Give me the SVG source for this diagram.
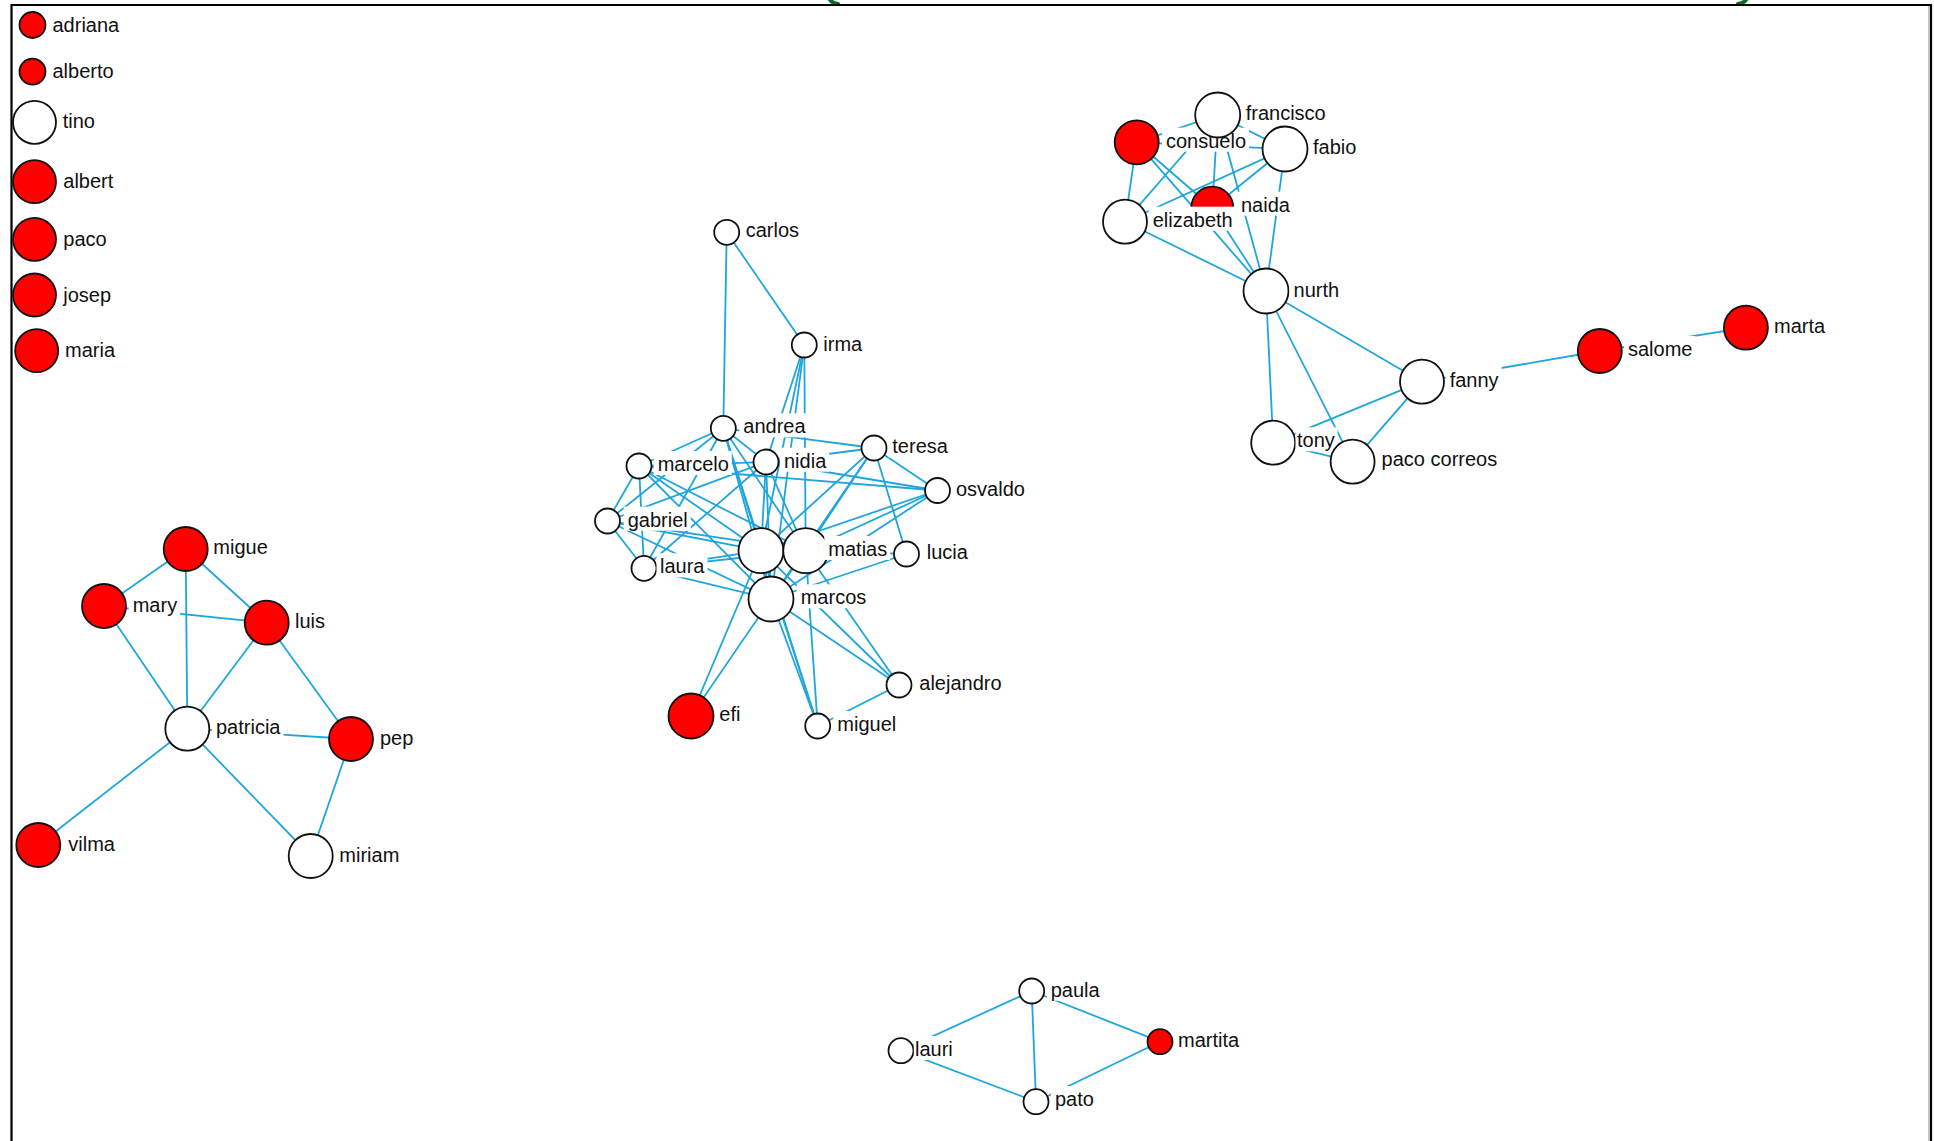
<svg xmlns="http://www.w3.org/2000/svg" width="1934" height="1141" viewBox="0 0 1934 1141">
<style>
.e{stroke:#1ea6dc;stroke-width:1.8;fill:none}
.n{stroke:#111;stroke-width:1.8}
.r{fill:#ff0000}
.w{fill:#ffffff}
.lb{fill:#ffffff}
text{font-family:"Liberation Sans",Arial,sans-serif;font-size:20px;fill:#111}
.fr{stroke:#000;stroke-width:2.2;fill:none}
.gr{stroke:#0b6b2e;stroke-width:4;fill:none;stroke-linecap:round}
</style>
<rect x="0" y="0" width="1934" height="1141" fill="#ffffff"/>
<g id="frame">
<path class="gr" d="M829,-2 Q831,3 838,4"/>
<path class="gr" d="M1747,-2 Q1745,3 1738,4"/>
<path class="fr" d="M11.5,1141 V5 H1931 V1141"/>
<line x1="1929" y1="6" x2="1929" y2="1141" stroke="#b0b0b0" stroke-width="1.5"/>
</g>
<g id="edges">
<!-- left group -->
<line class="e" x1="185.7" y1="549" x2="104" y2="606"/>
<line class="e" x1="185.7" y1="549" x2="187.3" y2="728.7"/>
<line class="e" x1="185.7" y1="549" x2="266.7" y2="622.7"/>
<line class="e" x1="104" y1="606" x2="266.7" y2="622.7"/>
<line class="e" x1="104" y1="606" x2="187.3" y2="728.7"/>
<line class="e" x1="266.7" y1="622.7" x2="187.3" y2="728.7"/>
<line class="e" x1="266.7" y1="622.7" x2="351" y2="739"/>
<line class="e" x1="187.3" y1="728.7" x2="351" y2="739"/>
<line class="e" x1="187.3" y1="728.7" x2="38.3" y2="845"/>
<line class="e" x1="187.3" y1="728.7" x2="310.7" y2="856"/>
<line class="e" x1="351" y1="739" x2="310.7" y2="856"/>
<!-- top right group -->
<line class="e" x1="1217.7" y1="115" x2="1136.7" y2="142.3"/>
<line class="e" x1="1217.7" y1="115" x2="1285" y2="149"/>
<line class="e" x1="1217.7" y1="115" x2="1212.3" y2="207.7"/>
<line class="e" x1="1217.7" y1="115" x2="1125" y2="221.7"/>
<line class="e" x1="1217.7" y1="115" x2="1266" y2="291"/>
<line class="e" x1="1136.7" y1="142.3" x2="1285" y2="149"/>
<line class="e" x1="1136.7" y1="142.3" x2="1125" y2="221.7"/>
<line class="e" x1="1136.7" y1="142.3" x2="1212.3" y2="207.7"/>
<line class="e" x1="1136.7" y1="142.3" x2="1266" y2="291"/>
<line class="e" x1="1285" y1="149" x2="1212.3" y2="207.7"/>
<line class="e" x1="1285" y1="149" x2="1125" y2="221.7"/>
<line class="e" x1="1285" y1="149" x2="1266" y2="291"/>
<line class="e" x1="1212.3" y1="207.7" x2="1266" y2="291"/>
<line class="e" x1="1125" y1="221.7" x2="1266" y2="291"/>
<line class="e" x1="1266" y1="291" x2="1422" y2="381.7"/>
<line class="e" x1="1266" y1="291" x2="1273.2" y2="442.7"/>
<line class="e" x1="1266" y1="291" x2="1352.6" y2="461.7"/>
<line class="e" x1="1422" y1="381.7" x2="1273.2" y2="442.7"/>
<line class="e" x1="1422" y1="381.7" x2="1352.6" y2="461.7"/>
<line class="e" x1="1273.2" y1="442.7" x2="1352.6" y2="461.7"/>
<line class="e" x1="1422" y1="381.7" x2="1599.8" y2="351"/>
<line class="e" x1="1599.8" y1="351" x2="1745.9" y2="327.7"/>
<!-- bottom group -->
<line class="e" x1="1031.7" y1="991" x2="901" y2="1050.7"/>
<line class="e" x1="1031.7" y1="991" x2="1036" y2="1101.7"/>
<line class="e" x1="1031.7" y1="991" x2="1160" y2="1041.7"/>
<line class="e" x1="901" y1="1050.7" x2="1036" y2="1101.7"/>
<line class="e" x1="1036" y1="1101.7" x2="1160" y2="1041.7"/>
<!-- central group -->
<line class="e" x1="726.7" y1="232.3" x2="723.3" y2="428.3"/>
<line class="e" x1="726.7" y1="232.3" x2="804.3" y2="345"/>
<line class="e" x1="804.3" y1="345" x2="766" y2="462"/>
<line class="e" x1="804.3" y1="345" x2="761" y2="550.7"/>
<line class="e" x1="804.3" y1="345" x2="771" y2="599"/>
<line class="e" x1="804.3" y1="345" x2="805.7" y2="550.7"/>
<line class="e" x1="723.3" y1="428.3" x2="639" y2="466"/>
<line class="e" x1="723.3" y1="428.3" x2="607.5" y2="521"/>
<line class="e" x1="723.3" y1="428.3" x2="766" y2="462"/>
<line class="e" x1="723.3" y1="428.3" x2="874" y2="448"/>
<line class="e" x1="723.3" y1="428.3" x2="761" y2="550.7"/>
<line class="e" x1="723.3" y1="428.3" x2="771" y2="599"/>
<line class="e" x1="723.3" y1="428.3" x2="805.7" y2="550.7"/>
<line class="e" x1="723.3" y1="428.3" x2="644" y2="568.3"/>
<line class="e" x1="723.3" y1="428.3" x2="817.7" y2="726"/>
<line class="e" x1="766" y1="462" x2="639" y2="466"/>
<line class="e" x1="766" y1="462" x2="874" y2="448"/>
<line class="e" x1="766" y1="462" x2="937.5" y2="490.5"/>
<line class="e" x1="766" y1="462" x2="761" y2="550.7"/>
<line class="e" x1="766" y1="462" x2="771" y2="599"/>
<line class="e" x1="766" y1="462" x2="805.7" y2="550.7"/>
<line class="e" x1="766" y1="462" x2="607.5" y2="521"/>
<line class="e" x1="766" y1="462" x2="644" y2="568.3"/>
<line class="e" x1="639" y1="466" x2="607.5" y2="521"/>
<line class="e" x1="639" y1="466" x2="644" y2="568.3"/>
<line class="e" x1="639" y1="466" x2="761" y2="550.7"/>
<line class="e" x1="639" y1="466" x2="805.7" y2="550.7"/>
<line class="e" x1="639" y1="466" x2="771" y2="599"/>
<line class="e" x1="639" y1="466" x2="937.5" y2="490.5"/>
<line class="e" x1="607.5" y1="521" x2="644" y2="568.3"/>
<line class="e" x1="607.5" y1="521" x2="761" y2="550.7"/>
<line class="e" x1="607.5" y1="521" x2="771" y2="599"/>
<line class="e" x1="607.5" y1="521" x2="805.7" y2="550.7"/>
<line class="e" x1="644" y1="568.3" x2="761" y2="550.7"/>
<line class="e" x1="644" y1="568.3" x2="771" y2="599"/>
<line class="e" x1="644" y1="568.3" x2="805.7" y2="550.7"/>
<line class="e" x1="874" y1="448" x2="937.5" y2="490.5"/>
<line class="e" x1="874" y1="448" x2="906.5" y2="554"/>
<line class="e" x1="874" y1="448" x2="761" y2="550.7"/>
<line class="e" x1="874" y1="448" x2="805.7" y2="550.7"/>
<line class="e" x1="874" y1="448" x2="771" y2="599"/>
<line class="e" x1="937.5" y1="490.5" x2="761" y2="550.7"/>
<line class="e" x1="937.5" y1="490.5" x2="805.7" y2="550.7"/>
<line class="e" x1="937.5" y1="490.5" x2="771" y2="599"/>
<line class="e" x1="906.5" y1="554" x2="805.7" y2="550.7"/>
<line class="e" x1="906.5" y1="554" x2="771" y2="599"/>
<line class="e" x1="761" y1="550.7" x2="805.7" y2="550.7"/>
<line class="e" x1="761" y1="550.7" x2="771" y2="599"/>
<line class="e" x1="761" y1="550.7" x2="691" y2="716"/>
<line class="e" x1="761" y1="550.7" x2="817.7" y2="726"/>
<line class="e" x1="761" y1="550.7" x2="899" y2="685"/>
<line class="e" x1="805.7" y1="550.7" x2="771" y2="599"/>
<line class="e" x1="805.7" y1="550.7" x2="817.7" y2="726"/>
<line class="e" x1="805.7" y1="550.7" x2="899" y2="685"/>
<line class="e" x1="771" y1="599" x2="691" y2="716"/>
<line class="e" x1="771" y1="599" x2="817.7" y2="726"/>
<line class="e" x1="771" y1="599" x2="899" y2="685"/>
<line class="e" x1="899" y1="685" x2="817.7" y2="726"/>
</g>
<!-- isolates -->
<g id="n-adriana"><circle class="n r" cx="32.5" cy="25" r="13"/><rect class="lb" x="48.5" y="11.5" width="73.7" height="24"/><text x="52.5" y="31.5">adriana</text></g>
<g id="n-alberto"><circle class="n r" cx="32.5" cy="71.7" r="13"/><rect class="lb" x="48.5" y="58" width="68.1" height="24"/><text x="52.5" y="78">alberto</text></g>
<g id="n-tino"><circle class="n w" cx="34.5" cy="122.3" r="21.5"/><rect class="lb" x="58.7" y="108.3" width="39.2" height="24"/><text x="62.7" y="128.3">tino</text></g>
<g id="n-albert"><circle class="n r" cx="34.5" cy="181.7" r="21.5"/><rect class="lb" x="59.3" y="167.7" width="57" height="24"/><text x="63.3" y="187.7">albert</text></g>
<g id="n-paco"><circle class="n r" cx="34.5" cy="239.3" r="21.5"/><rect class="lb" x="59.3" y="225.5" width="50.4" height="24"/><text x="63.3" y="245.5">paco</text></g>
<g id="n-josep"><circle class="n r" cx="34.5" cy="295" r="21.5"/><rect class="lb" x="59.3" y="281.5" width="54.8" height="24"/><text x="63.3" y="301.5">josep</text></g>
<g id="n-maria"><circle class="n r" cx="36.7" cy="350.7" r="21.5"/><rect class="lb" x="61" y="336.7" width="57" height="24"/><text x="65" y="356.7">maria</text></g>
<!-- left group -->
<g id="n-migue"><circle class="n r" cx="185.7" cy="549" r="22"/><rect class="lb" x="209.3" y="534" width="61.5" height="24"/><text x="213.3" y="554">migue</text></g>
<g id="n-mary"><circle class="n r" cx="104" cy="606" r="22"/><rect class="lb" x="128.7" y="592" width="51.4" height="24"/><text x="132.7" y="612">mary</text></g>
<g id="n-luis"><circle class="n r" cx="266.7" cy="622.7" r="22"/><rect class="lb" x="291" y="608.3" width="37" height="24"/><text x="295" y="628.3">luis</text></g>
<g id="n-patricia"><circle class="n w" cx="187.3" cy="728.7" r="22"/><rect class="lb" x="212" y="714" width="71.5" height="24"/><text x="216" y="734">patricia</text></g>
<g id="n-pep"><circle class="n r" cx="351" cy="739" r="22"/><rect class="lb" x="376" y="725" width="40.4" height="24"/><text x="380" y="745">pep</text></g>
<g id="n-vilma"><circle class="n r" cx="38.3" cy="845" r="22"/><rect class="lb" x="64.3" y="831" width="53.7" height="24"/><text x="68.3" y="851">vilma</text></g>
<g id="n-miriam"><circle class="n w" cx="310.7" cy="856" r="22"/><rect class="lb" x="335.3" y="841.7" width="67" height="24"/><text x="339.3" y="861.7">miriam</text></g>
<!-- top right group -->
<g id="n-consuelo"><circle class="n r" cx="1136.7" cy="142.3" r="22"/><rect class="lb" x="1162" y="127.7" width="87" height="24"/><text x="1166" y="147.7">consuelo</text></g>
<g id="n-francisco"><circle class="n w" cx="1217.7" cy="115" r="22.5"/><rect class="lb" x="1241.7" y="100" width="87" height="24"/><text x="1245.7" y="120">francisco</text></g>
<g id="n-fabio"><circle class="n w" cx="1285" cy="149" r="22.5"/><rect class="lb" x="1309" y="134.3" width="50.4" height="24"/><text x="1313" y="154.3">fabio</text></g>
<g id="n-naida"><circle class="n r" cx="1212.3" cy="207.7" r="21"/><rect class="lb" x="1237" y="191.7" width="55.9" height="24"/><text x="1241" y="211.7">naida</text></g>
<g id="n-elizabeth"><circle class="n w" cx="1125" cy="221.7" r="22"/><rect class="lb" x="1148.7" y="206.7" width="87" height="24"/><text x="1152.7" y="226.7">elizabeth</text></g>
<g id="n-nurth"><circle class="n w" cx="1266" cy="291" r="22.5"/><rect class="lb" x="1289.6" y="276.7" width="52.6" height="24"/><text x="1293.6" y="296.7">nurth</text></g>
<g id="n-fanny"><circle class="n w" cx="1422" cy="381.7" r="22"/><rect class="lb" x="1445.7" y="366.7" width="55.9" height="24"/><text x="1449.7" y="386.7">fanny</text></g>
<g id="n-tony"><circle class="n w" cx="1273.2" cy="442.7" r="22"/><rect class="lb" x="1295.5" y="427.3" width="42" height="24"/><text x="1297" y="447.3">tony</text></g>
<g id="n-paco-correos"><circle class="n w" cx="1352.6" cy="461.7" r="22"/><rect class="lb" x="1377.6" y="446" width="122.6" height="24"/><text x="1381.6" y="466">paco correos</text></g>
<g id="n-salome"><circle class="n r" cx="1599.8" cy="351" r="22"/><rect class="lb" x="1624" y="336" width="71.5" height="24"/><text x="1628" y="356">salome</text></g>
<g id="n-marta"><circle class="n r" cx="1745.9" cy="327.7" r="22"/><rect class="lb" x="1770" y="312.7" width="58.1" height="24"/><text x="1774" y="332.7">marta</text></g>
<!-- central group -->
<g id="n-carlos"><circle class="n w" cx="726.7" cy="232.3" r="12.5"/><rect class="lb" x="741.7" y="216.7" width="60.3" height="24"/><text x="745.7" y="236.7">carlos</text></g>
<g id="n-irma"><circle class="n w" cx="804.3" cy="345" r="12.5"/><rect class="lb" x="819.3" y="330.7" width="45.9" height="24"/><text x="823.3" y="350.7">irma</text></g>
<g id="n-andrea"><circle class="n w" cx="723.3" cy="428.3" r="12.5"/><rect class="lb" x="739.3" y="413.3" width="69.3" height="24"/><text x="743.3" y="433.3">andrea</text></g>
<g id="n-teresa"><circle class="n w" cx="874" cy="448" r="12.5"/><rect class="lb" x="888.3" y="433.3" width="62.6" height="24"/><text x="892.3" y="453.3">teresa</text></g>
<g id="n-nidia"><circle class="n w" cx="766" cy="462" r="12.5"/><rect class="lb" x="780" y="447.7" width="49.2" height="24"/><text x="784" y="467.7">nidia</text></g>
<g id="n-marcelo"><circle class="n w" cx="639" cy="466" r="12.5"/><rect class="lb" x="653.7" y="451" width="78.1" height="24"/><text x="657.7" y="471">marcelo</text></g>
<g id="n-osvaldo"><circle class="n w" cx="937.5" cy="490.5" r="12.5"/><rect class="lb" x="952" y="476" width="75.9" height="24"/><text x="956" y="496">osvaldo</text></g>
<g id="n-gabriel"><circle class="n w" cx="607.5" cy="521" r="12.5"/><rect class="lb" x="623.7" y="506.7" width="67" height="24"/><text x="627.7" y="526.7">gabriel</text></g>
<g id="n-laura"><circle class="n w" cx="644" cy="568.3" r="12.5"/><rect class="lb" x="656.5" y="553.3" width="51" height="24"/><text x="660" y="573.3">laura</text></g>
<g id="n-unlabelled"><circle class="n w" cx="761" cy="550.7" r="22.5"/></g>
<g id="n-matias"><circle class="n w" cx="805.7" cy="550.7" r="22.5"/><rect class="lb" x="824.3" y="536" width="65.9" height="24"/><text x="828.3" y="556">matias</text></g>
<g id="n-lucia"><circle class="n w" cx="906.5" cy="554" r="12.5"/><rect class="lb" x="922.7" y="539.3" width="48.1" height="24"/><text x="926.7" y="559.3">lucia</text></g>
<g id="n-marcos"><circle class="n w" cx="771" cy="599" r="22.5"/><rect class="lb" x="796.7" y="584.3" width="72.6" height="24"/><text x="800.7" y="604.3">marcos</text></g>
<g id="n-alejandro"><circle class="n w" cx="899" cy="685" r="12.5"/><rect class="lb" x="915.3" y="670" width="89.3" height="24"/><text x="919.3" y="690">alejandro</text></g>
<g id="n-efi"><circle class="n r" cx="691" cy="716" r="22.5"/><rect class="lb" x="715.3" y="701" width="28.1" height="24"/><text x="719.3" y="721">efi</text></g>
<g id="n-miguel"><circle class="n w" cx="817.7" cy="726" r="12.5"/><rect class="lb" x="833.3" y="711" width="65.9" height="24"/><text x="837.3" y="731">miguel</text></g>
<!-- bottom group -->
<g id="n-paula"><circle class="n w" cx="1031.7" cy="991" r="12.5"/><rect class="lb" x="1046.7" y="976.7" width="55.9" height="24"/><text x="1050.7" y="996.7">paula</text></g>
<g id="n-lauri"><circle class="n w" cx="901" cy="1050.7" r="12.5"/><rect class="lb" x="913.8" y="1036" width="42" height="24"/><text x="915" y="1056">lauri</text></g>
<g id="n-martita"><circle class="n r" cx="1160" cy="1041.7" r="12.5"/><rect class="lb" x="1174" y="1026.7" width="68.1" height="24"/><text x="1178" y="1046.7">martita</text></g>
<g id="n-pato"><circle class="n w" cx="1036" cy="1101.7" r="12.5"/><rect class="lb" x="1051" y="1086" width="45.9" height="24"/><text x="1055" y="1106">pato</text></g>
</svg>
